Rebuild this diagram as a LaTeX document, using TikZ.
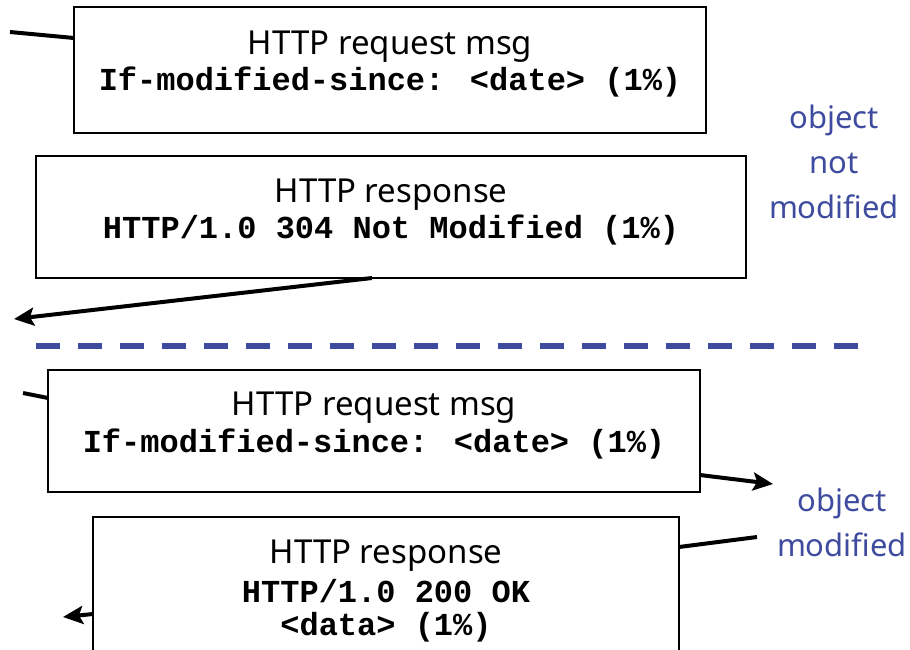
\documentclass[tikz,border=0pt]{standalone}
\usepackage{fontspec}
\setmainfont{Noto Sans}
\newfontfamily\codefont{Liberation Mono}
\usetikzlibrary{arrows.meta}
\definecolor{noteblue}{RGB}{62,75,158}
\tikzset{
  msgbox/.style={draw, line width=2pt, fill=white, inner sep=0pt, outer sep=0pt, anchor=north west},
  headtext/.style={anchor=base, inner sep=0pt, font=\fontsize{33}{36}\selectfont},
  codetext/.style={anchor=base, inner sep=0pt, font=\codefont\bfseries\fontsize{32}{34}\selectfont},
  notetext/.style={align=center, inner sep=0pt, text=noteblue, font=\fontsize{31}{45}\selectfont},
  wire/.style={line width=4pt},
  arr/.style={line width=4pt, -{Stealth[length=20pt, width=18pt, inset=4pt]}},
  divider/.style={line width=6pt, noteblue, dash pattern=on 24pt off 18pt}
}
\begin{document}
\begin{tikzpicture}[x=1pt, y=-1pt]
\useasboundingbox (0,0) rectangle (910,649);
\clip (0,0) rectangle (910,649);

% end points of the connectors outside the boxes
\coordinate (c1) at (10,32);
\coordinate (c2) at (14,319);
\coordinate (c3) at (23,393);
\coordinate (c4) at (773,484);
\coordinate (c5) at (757,537);
\coordinate (c6) at (63,617);

% conditional GET, object not modified
\node[msgbox, minimum width=632pt, minimum height=126pt] (req1) at (74,7) {};
\node[headtext] (req1a) at ([yshift=-47pt]req1.north) {HTTP request msg};
\node[codetext] (req1b) at ([yshift=-83pt]req1.north) {If-modified-since: <date> (1\%)};

\node[msgbox, minimum width=710pt, minimum height=122pt] (resp1) at (36,156) {};
\node[headtext] (resp1a) at ([yshift=-46pt]resp1.north) {HTTP response};
\node[codetext] (resp1b) at ([yshift=-82pt]resp1.north) {HTTP/1.0 304 Not Modified (1\%)};

\node[notetext] (note1) at (834,162) {object\\not\\modified};

\draw[wire] (c1) -- ([yshift=-31pt]req1.north west);
\draw[arr] ([xshift=336pt]resp1.south west) -- (c2);

% separator between the two cases
\draw[divider] (36,346) -- (858,346);

% conditional GET, object modified
\node[msgbox, minimum width=652pt, minimum height=122pt] (req2) at (48,370) {};
\node[headtext] (req2a) at ([yshift=-45pt]req2.north) {HTTP request msg};
\node[codetext] (req2b) at ([yshift=-82pt]req2.north) {If-modified-since: <date> (1\%)};

\node[msgbox, minimum width=586pt, minimum height=180pt] (resp2) at (93,517) {};
\node[headtext] (resp2a) at ([yshift=-46pt]resp2.north) {HTTP response};
\node[codetext] (resp2b) at ([yshift=-85pt]resp2.north) {HTTP/1.0 200 OK};
\node[codetext] (resp2c) at ([yshift=-118pt]resp2.north) {<data> (1\%)};

\node[notetext] (note2) at (842,522) {object\\modified};

\draw[wire] (c3) -- ([yshift=-28pt]req2.north west);
\draw[arr] ([yshift=-105pt]req2.north east) -- (c4);
\draw[wire] (c5) -- ([yshift=-30pt]resp2.north east);
\draw[arr] ([yshift=-97pt]resp2.north west) -- (c6);
\end{tikzpicture}
\end{document}
